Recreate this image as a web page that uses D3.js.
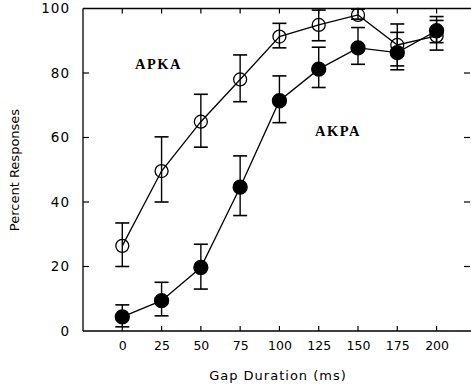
<!DOCTYPE html>
<html>
<head>
<meta charset="utf-8">
<script src="https://d3js.org/d3.v7.min.js"></script>
<style>
html,body{margin:0;padding:0;background:#fff;}
svg{display:block;}
</style>
</head>
<body>
<svg id="chart" width="471" height="387"></svg>
<script>
const gaps = [0, 25, 50, 75, 100, 125, 150, 175, 200];
const yTicks = [0, 20, 40, 60, 80, 100];
// APKA (open circles)
const apkaMean = [26.4, 49.6, 64.9, 78.0, 91.3, 94.9, 98.0, 88.7, 91.5];
const apkaHigh = [33.5, 60.2, 73.4, 85.6, 95.4, 99.5, 99.8, 95.2, 96.3];
const apkaLow  = [20.0, 40.0, 57.0, 71.1, 87.8, 90.0, 96.7, 82.2, 87.1];
// AKPA (filled circles)
const akpaMean = [4.4, 9.4, 19.7, 44.6, 71.4, 81.2, 87.8, 86.3, 93.1];
const akpaHigh = [8.1, 15.1, 26.9, 54.3, 79.1, 88.0, 94.1, 92.6, 97.5];
const akpaLow  = [1.3, 4.7, 13.0, 35.8, 64.6, 75.5, 82.7, 81.0, 89.4];

const svg = d3.select("#chart");
const x = d3.scaleLinear().domain([-25, 220]).range([83, 468]);
const y = d3.scaleLinear().domain([0, 100]).range([331, 8.5]);
const font = "'DejaVu Sans', 'Liberation Sans', sans-serif";

// frame lines: left, bottom, top
svg.append("line").attr("x1", x(-25)).attr("x2", x(-25)).attr("y1", y(100)).attr("y2", y(0))
  .attr("stroke", "#000").attr("stroke-width", 1.3);
svg.append("line").attr("x1", x(-25)).attr("x2", 471).attr("y1", y(0)).attr("y2", y(0))
  .attr("stroke", "#000").attr("stroke-width", 1.6);
svg.append("line").attr("x1", x(-25)).attr("x2", 471).attr("y1", y(100)).attr("y2", y(100))
  .attr("stroke", "#000").attr("stroke-width", 1.3);

// axes
const xAxisB = d3.axisBottom(x).tickValues(gaps).tickSize(0).tickPadding(10).tickFormat(d3.format("d"));
const gxb = svg.append("g").attr("transform", `translate(0,${y(0)})`).call(xAxisB);
gxb.select(".domain").remove();
gxb.selectAll("text").attr("font-family", font).attr("font-size", 12.5).attr("fill", "#000");

const yAxisL = d3.axisLeft(y).tickValues(yTicks).tickSize(0).tickPadding(13);
const gyl = svg.append("g").attr("transform", `translate(${x(-25)},0)`).call(yAxisL);
gyl.select(".domain").remove();
gyl.selectAll("text").attr("font-family", font).attr("font-size", 13.5).attr("letter-spacing", 1).attr("fill", "#000");

// inward ticks
const tk = svg.append("g").attr("stroke", "#000").attr("stroke-width", 1.2);
gaps.forEach(g => {
  tk.append("line").attr("x1", x(g)).attr("x2", x(g)).attr("y1", y(0)).attr("y2", y(0) - 5);
  tk.append("line").attr("x1", x(g)).attr("x2", x(g)).attr("y1", y(100)).attr("y2", y(100) + 5);
});
yTicks.slice(1, 5).forEach(v => {
  tk.append("line").attr("x1", x(-25)).attr("x2", x(-25) + 6).attr("y1", y(v)).attr("y2", y(v));
  tk.append("line").attr("x1", 470).attr("x2", 464).attr("y1", y(v)).attr("y2", y(v));
});

// axis titles
svg.append("text").attr("x", 278).attr("y", 380).attr("text-anchor", "middle")
  .attr("font-family", font).attr("font-size", 13).attr("letter-spacing", 1).text("Gap Duration (ms)");
svg.append("text").attr("transform", `translate(19,${170}) rotate(-90)`).attr("text-anchor", "middle")
  .attr("font-family", font).attr("font-size", 13).text("Percent Responses");

function drawSeries(mean, hi, lo, filled) {
  const g = svg.append("g");
  const cap = 7;
  gaps.forEach((gv, i) => {
    g.append("line").attr("x1", x(gv)).attr("x2", x(gv)).attr("y1", y(hi[i])).attr("y2", y(lo[i]))
      .attr("stroke", "#000").attr("stroke-width", 1.4);
    [hi[i], lo[i]].forEach(v => {
      g.append("line").attr("x1", x(gv) - cap).attr("x2", x(gv) + cap).attr("y1", y(v)).attr("y2", y(v))
        .attr("stroke", "#000").attr("stroke-width", 1.6);
    });
  });
  const line = d3.line().x((d, i) => x(gaps[i])).y(d => y(d));
  g.append("path").attr("d", line(mean)).attr("fill", "none").attr("stroke", "#000").attr("stroke-width", 1.3);
  g.selectAll("circle").data(mean).join("circle")
    .attr("cx", (d, i) => x(gaps[i])).attr("cy", d => y(d))
    .attr("r", filled ? 7 : 6.5)
    .attr("fill", filled ? "#000" : "none")
    .attr("stroke", "#000").attr("stroke-width", 1.3);
}
drawSeries(apkaMean, apkaHigh, apkaLow, false);
drawSeries(akpaMean, akpaHigh, akpaLow, true);

// series labels
const serif = "'Liberation Serif', 'DejaVu Serif', serif";
svg.append("text").attr("x", 135).attr("y", 69).attr("font-family", serif).attr("font-weight", "bold")
  .attr("font-size", 14.5).attr("letter-spacing", 1.5).text("APKA");
svg.append("text").attr("x", 315).attr("y", 136).attr("font-family", serif).attr("font-weight", "bold")
  .attr("font-size", 14.5).attr("letter-spacing", 1.5).text("AKPA");
</script>
</body>
</html>
